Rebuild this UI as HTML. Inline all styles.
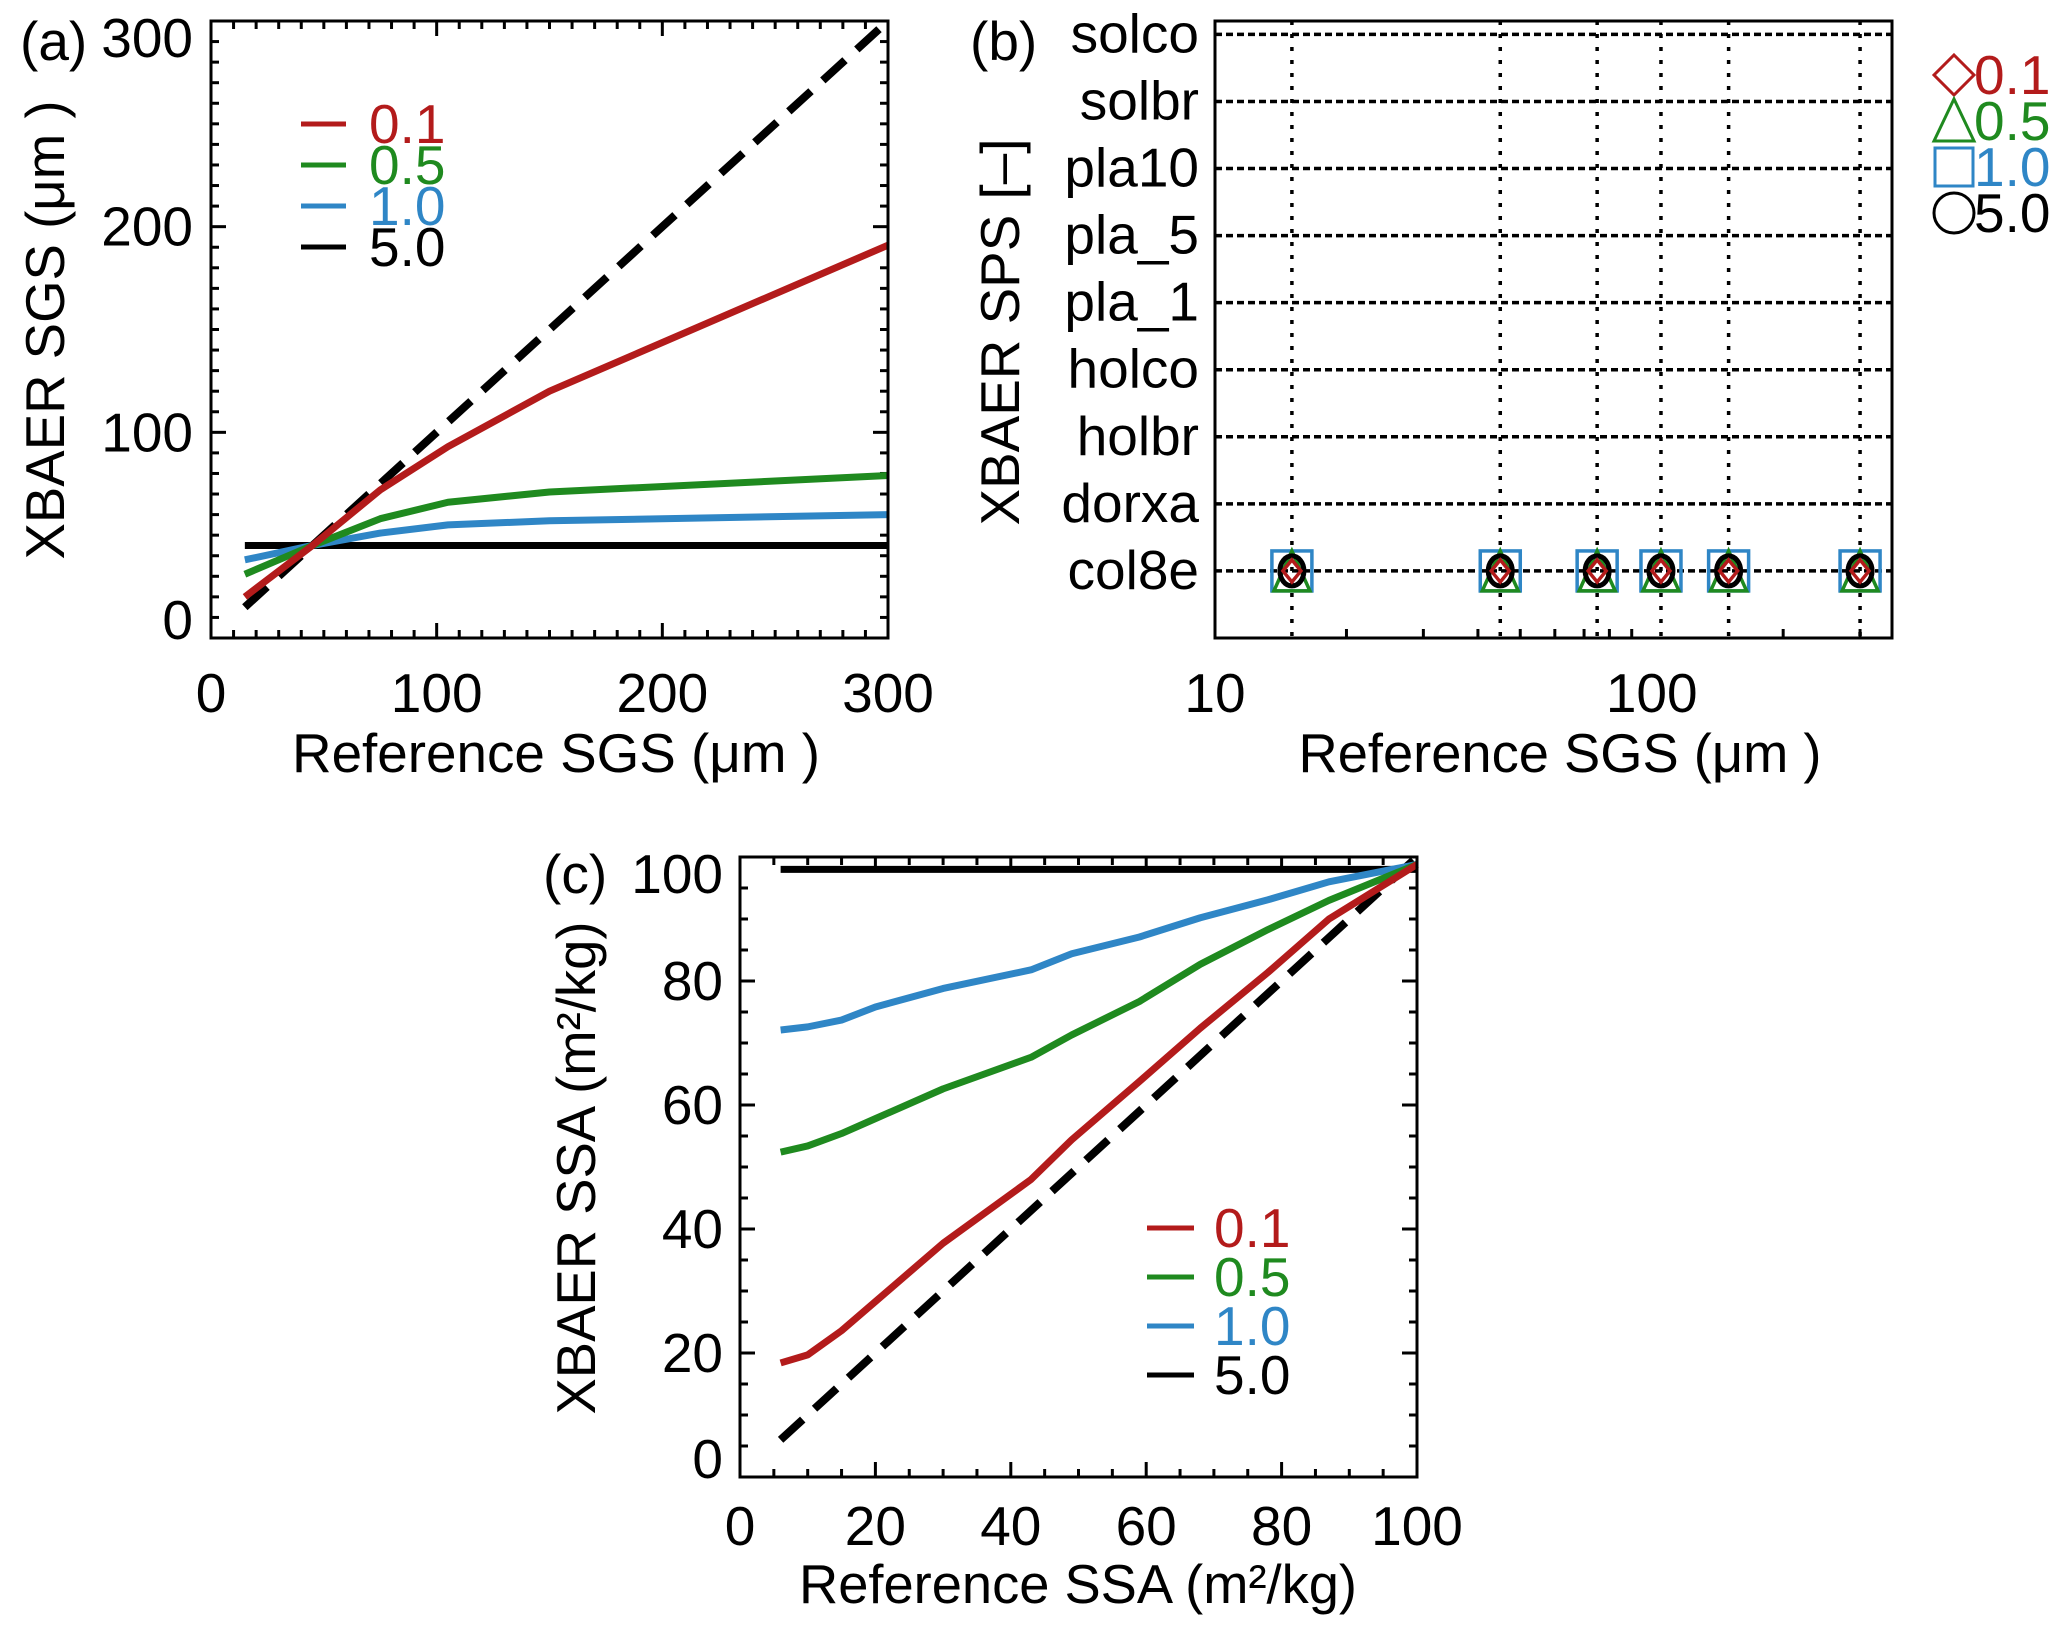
<!DOCTYPE html>
<html><head><meta charset="utf-8">
<style>
html,body{margin:0;padding:0;background:#fff;}
svg{display:block;font-family:"Liberation Sans",sans-serif;}
</style></head>
<body>
<svg id="fig" width="2067" height="1631" viewBox="0 0 2067 1631" xmlns="http://www.w3.org/2000/svg"></svg>
<script>
// ---------- data ----------
// panel (a)
const aX = [15, 45, 75, 105, 150, 300];
const aRed = [20, 45, 72, 93, 120, 191];
const aGreen = [31, 45, 58, 66, 71, 79];
const aBlue = [38, 45, 51, 55, 57, 60];
const aBlack = [45, 45, 45, 45, 45, 45];
const aTicks = [0, 100, 200, 300];
// panel (b)
const bCats = ["col8e","dorxa","holbr","holco","pla_1","pla_5","pla10","solbr","solco"];
const bX = [15, 45, 75, 105, 150, 300];
const bCat = [1, 1, 1, 1, 1, 1];
const bTicks = [10, 100];
// panel (c)
const cX = [6, 10, 15, 20, 30, 43, 49, 59, 68, 78, 87, 100];
const cRed = [18.4, 19.7, 23.6, 28.3, 37.7, 48, 54.4, 63.8, 72.4, 81.4, 90, 98.8];
const cGreen = [52.4, 53.4, 55.4, 57.8, 62.6, 67.7, 71.3, 76.7, 82.7, 88.3, 93, 98.8];
const cBlue = [72.1, 72.6, 73.7, 75.8, 78.8, 81.8, 84.4, 87.1, 90.2, 93.1, 96, 98.8];
const cBlack = [98, 98, 98, 98, 98, 98, 98, 98, 98, 98, 98, 98];
const cTicks = [0, 20, 40, 60, 80, 100];
const legendLabels = ["0.1","0.5","1.0","5.0"];

const RED="#b31b1b", GREEN="#1f8a1f", BLUE="#2f86c6", BLACK="#000";
const NS="http://www.w3.org/2000/svg";
const svg=document.getElementById('fig');
function el(tag, attrs, parent){
  const e=document.createElementNS(NS,tag);
  for(const k in attrs) e.setAttribute(k, attrs[k]);
  (parent||svg).appendChild(e); return e;
}
function txt(s, attrs, parent){ const t=el('text', attrs, parent); t.textContent=s; return t; }
const FS=55;

function linMap(d0,d1,p0,p1){ return v=>p0+(v-d0)/(d1-d0)*(p1-p0); }

// ===== Panel (a) =====
(function(){
  const g=el('g',{});
  
  
  const L=211,R=888,T=21,B=638;
  const sx=linMap(0,300,L,R), sy=linMap(0,300,B,T);
  for(let v=0; v<=300; v+=10){
    const major=v%100===0, len=major?15:8;
    el('line',{x1:sx(v),y1:B,x2:sx(v),y2:B-len,stroke:'#000','stroke-width':3},g);
    el('line',{x1:sx(v),y1:T,x2:sx(v),y2:T+len,stroke:'#000','stroke-width':3},g);
    el('line',{x1:L,y1:sy(v),x2:L+len,y2:sy(v),stroke:'#000','stroke-width':3},g);
    el('line',{x1:R,y1:sy(v),x2:R-len,y2:sy(v),stroke:'#000','stroke-width':3},g);
  }
  function series(xs,ys,color,name,dash){
    const p=el('polyline',{points:xs.map((x,i)=>sx(x)+','+sy(ys[i])).join(' '),fill:'none',stroke:color,'stroke-width':dash?8:7,'stroke-linejoin':'round'},g);
    if(dash) p.setAttribute('stroke-dasharray',dash);
    
    
  }
  series([aX[0],aX[aX.length-1]],[aX[0],aX[aX.length-1]],BLACK,'one-to-one-line-a','30,16');
  series(aX,aBlack,BLACK,'line-a-5.0');
  series(aX,aBlue,BLUE,'line-a-1.0');
  series(aX,aGreen,GREEN,'line-a-0.5');
  series(aX,aRed,RED,'line-a-0.1');
  el('rect',{x:L,y:T,width:R-L,height:B-T,fill:'none',stroke:'#000','stroke-width':3},g);
  aTicks.forEach(v=>{
    let yc=Math.min(Math.max(sy(v),T+17),B-18);
    txt(String(v),{x:sx(v),y:712,'text-anchor':'middle','font-size':FS},g);
    txt(String(v),{x:193,y:yc+19,'text-anchor':'end','font-size':FS},g);
  });
  txt('Reference SGS (μm )',{x:556,y:772,'text-anchor':'middle','font-size':FS,textLength:528,lengthAdjust:'spacingAndGlyphs'},g);
  const yt=txt('XBAER SGS (μm )',{x:0,y:0,'text-anchor':'middle','font-size':FS,textLength:459,lengthAdjust:'spacingAndGlyphs',transform:'translate(64,330) rotate(-90)'},g);
  
  
  txt('(a)',{x:20,y:60,'font-size':FS},g);
  const cols=[RED,GREEN,BLUE,BLACK], ys=[124,165,206,247];
  legendLabels.forEach((lab,i)=>{
    const le=el('g',{},g);
    
    
    el('line',{x1:301,y1:ys[i],x2:346,y2:ys[i],stroke:cols[i],'stroke-width':5},le);
    txt(lab,{x:369,y:ys[i]+19,'font-size':FS,fill:cols[i]},le);
  });
})();

// ===== Panel (b) =====
(function(){
  const g=el('g',{});
  
  
  const L=1215,R=1892,T=21,B=638;
  const lmin=1, lmax=Math.log10(355);
  const sx=v=>L+(Math.log10(v)-lmin)/(lmax-lmin)*(R-L);
  const sy=linMap(0,9.2,B,T);
  [20,30,40,50,60,70,80,90,200,300].forEach(v=>{
    el('line',{x1:sx(v),y1:B,x2:sx(v),y2:B-9,stroke:'#000','stroke-width':3},g);
  });
  bCats.forEach((c,i)=>{
    const gl=el('line',{x1:L,y1:sy(i+1),x2:R,y2:sy(i+1),stroke:'#000','stroke-width':3.5,'stroke-dasharray':'7,4'},g);
    
    
    txt(c,{x:1199,y:sy(i+1)+18,'text-anchor':'end','font-size':FS},g);
  });
  bX.forEach(v=>{
    el('line',{x1:sx(v),y1:T,x2:sx(v),y2:B,stroke:'#000','stroke-width':3.5,'stroke-dasharray':'4,9'},g);
  });
  bX.forEach((v,i)=>{
    const cx=sx(v), cy=sy(bCat[i]);
    const m=el('g',{},g);
    
    
    el('rect',{x:cx-20,y:cy-20,width:40,height:40,fill:'none',stroke:BLUE,'stroke-width':3.5},m);
    el('polygon',{points:`${cx},${cy-20} ${cx+18},${cy+20} ${cx-18},${cy+20}`,fill:'none',stroke:GREEN,'stroke-width':3.5},m);
    el('ellipse',{cx:cx,cy:cy,rx:12,ry:15,fill:'none',stroke:BLACK,'stroke-width':5},m);
    el('polygon',{points:`${cx},${cy-11} ${cx+9},${cy} ${cx},${cy+11} ${cx-9},${cy}`,fill:'none',stroke:RED,'stroke-width':3.5},m);
  });
  el('rect',{x:L,y:T,width:R-L,height:B-T,fill:'none',stroke:'#000','stroke-width':3},g);
  bTicks.forEach(v=>txt(String(v),{x:sx(v),y:712,'text-anchor':'middle','font-size':FS},g));
  txt('Reference SGS (μm )',{x:1560,y:772,'text-anchor':'middle','font-size':FS,textLength:523,lengthAdjust:'spacingAndGlyphs'},g);
  txt('XBAER SPS [–]',{x:0,y:0,'text-anchor':'middle','font-size':FS,textLength:387,lengthAdjust:'spacingAndGlyphs',transform:'translate(1019,332) rotate(-90)'},g);
  txt('(b)',{x:970,y:60,'font-size':FS},g);
  const cols=[RED,GREEN,BLUE,BLACK], ys=[75,121,167,213];
  legendLabels.forEach((lab,i)=>{
    const le=el('g',{},g);
    
    
    const cx=1954, cy=ys[i];
    if(i===0) el('polygon',{points:`${cx},${cy-20} ${cx+20},${cy} ${cx},${cy+20} ${cx-20},${cy}`,fill:'none',stroke:cols[i],'stroke-width':3},le);
    if(i===1) el('polygon',{points:`${cx},${cy-22} ${cx+20},${cy+20} ${cx-20},${cy+20}`,fill:'none',stroke:cols[i],'stroke-width':3},le);
    if(i===2) el('rect',{x:cx-19,y:cy-19,width:38,height:38,fill:'none',stroke:cols[i],'stroke-width':3},le);
    if(i===3) el('circle',{cx:cx,cy:cy,r:20,fill:'none',stroke:cols[i],'stroke-width':3},le);
    txt(lab,{x:1974,y:cy+19,'font-size':FS,fill:cols[i]},le);
  });
})();

// ===== Panel (c) =====
(function(){
  const g=el('g',{});
  
  
  const L=740,R=1417,T=857,B=1477;
  const sx=linMap(0,100,L,R), sy=linMap(0,100,B,T);
  for(let v=0; v<=100; v+=5){
    const major=v%20===0, len=major?15:8;
    el('line',{x1:sx(v),y1:B,x2:sx(v),y2:B-len,stroke:'#000','stroke-width':3},g);
    el('line',{x1:sx(v),y1:T,x2:sx(v),y2:T+len,stroke:'#000','stroke-width':3},g);
    el('line',{x1:L,y1:sy(v),x2:L+len,y2:sy(v),stroke:'#000','stroke-width':3},g);
    el('line',{x1:R,y1:sy(v),x2:R-len,y2:sy(v),stroke:'#000','stroke-width':3},g);
  }
  function series(xs,ys,color,name,dash){
    const p=el('polyline',{points:xs.map((x,i)=>sx(x)+','+sy(ys[i])).join(' '),fill:'none',stroke:color,'stroke-width':dash?8:7,'stroke-linejoin':'round'},g);
    if(dash) p.setAttribute('stroke-dasharray',dash);
    
    
  }
  series([cX[0],cX[cX.length-1]],[cX[0],cX[cX.length-1]],BLACK,'one-to-one-line-c','30,16');
  series(cX,cBlack,BLACK,'line-c-5.0');
  series(cX,cBlue,BLUE,'line-c-1.0');
  series(cX,cGreen,GREEN,'line-c-0.5');
  series(cX,cRed,RED,'line-c-0.1');
  el('rect',{x:L,y:T,width:R-L,height:B-T,fill:'none',stroke:'#000','stroke-width':3},g);
  cTicks.forEach(v=>{
    let yc=Math.min(Math.max(sy(v),T+17),B-18);
    txt(String(v),{x:sx(v),y:1545,'text-anchor':'middle','font-size':FS},g);
    txt(String(v),{x:723,y:yc+19,'text-anchor':'end','font-size':FS},g);
  });
  txt('Reference SSA (m²/kg)',{x:1078,y:1603,'text-anchor':'middle','font-size':FS,textLength:558,lengthAdjust:'spacingAndGlyphs'},g);
  txt('XBAER SSA (m²/kg)',{x:0,y:0,'text-anchor':'middle','font-size':FS,textLength:493,lengthAdjust:'spacingAndGlyphs',transform:'translate(595,1168) rotate(-90)'},g);
  txt('(c)',{x:543,y:893,'font-size':FS},g);
  const cols=[RED,GREEN,BLUE,BLACK], ys=[1228,1277,1326,1375];
  legendLabels.forEach((lab,i)=>{
    const le=el('g',{},g);
    
    
    el('line',{x1:1147,y1:ys[i],x2:1194,y2:ys[i],stroke:cols[i],'stroke-width':5},le);
    txt(lab,{x:1214,y:ys[i]+19,'font-size':FS,fill:cols[i]},le);
  });
})();
</script>
</body></html>
